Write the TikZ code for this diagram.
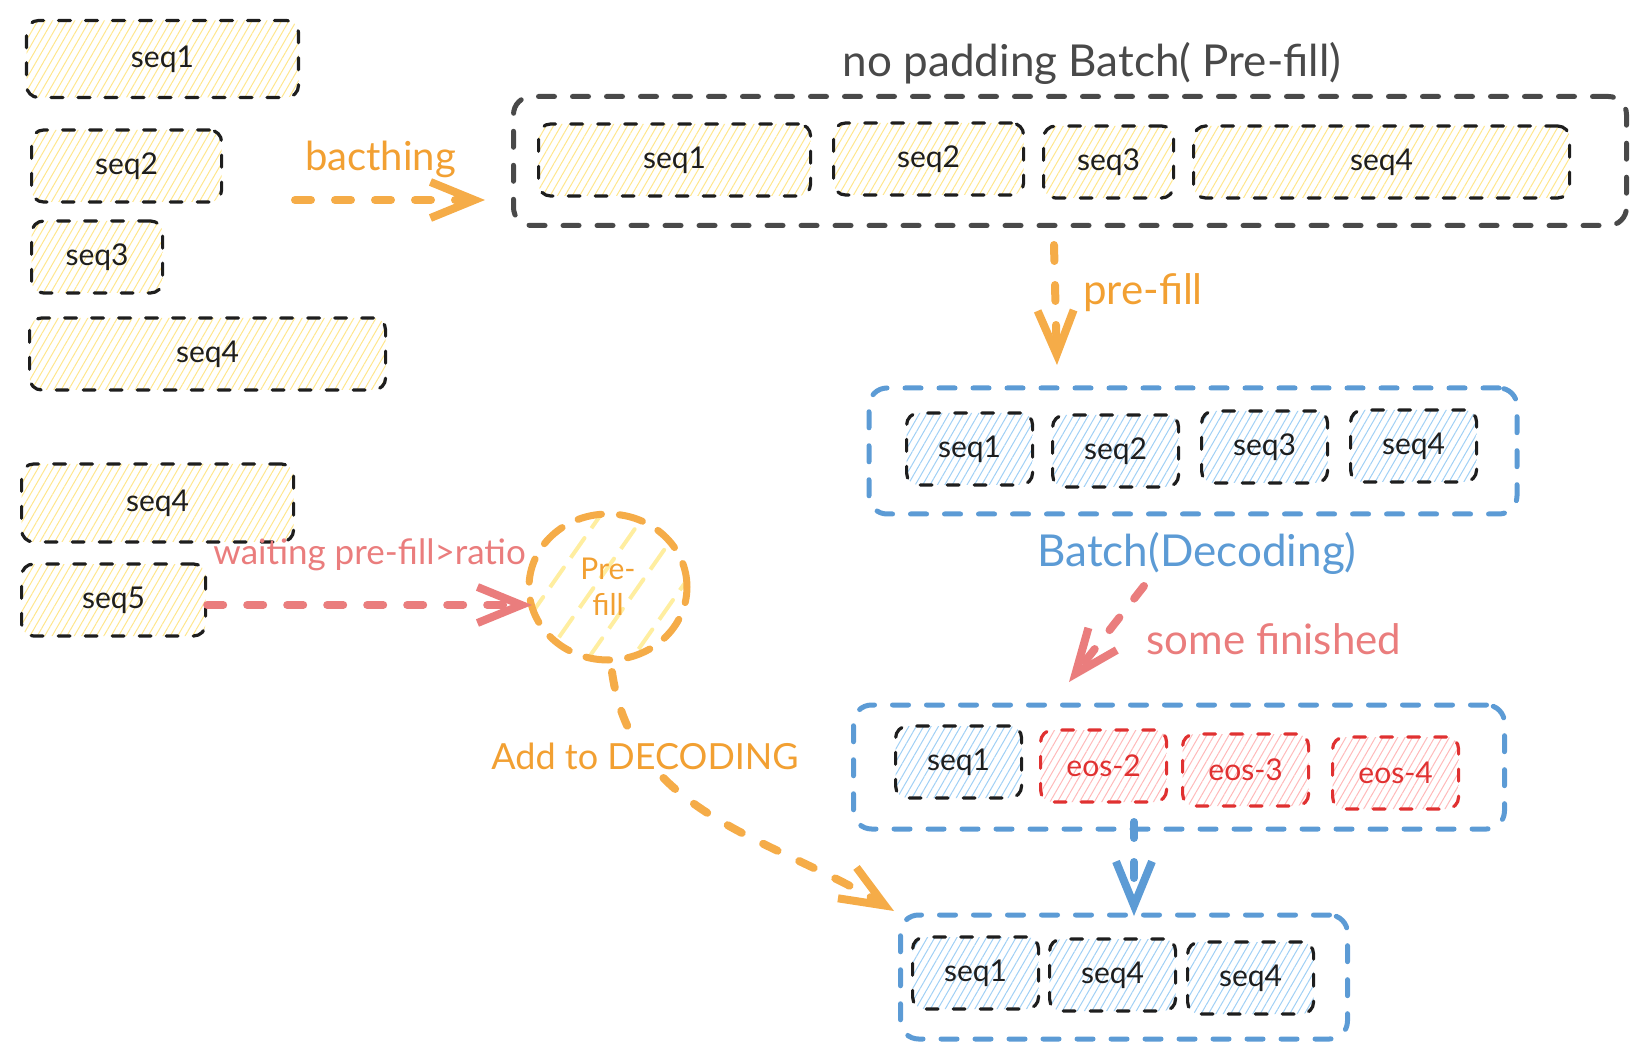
\documentclass[tikz,border=0pt]{standalone}
\usepackage{fontspec}
\setmainfont{Lato}
\usepackage{xcolor}
\definecolor{strokeblack}{RGB}{30,30,30}
\definecolor{batchgray}{RGB}{73,73,73}
\definecolor{hatchyellow}{RGB}{255,230,140}
\definecolor{hatchblue}{RGB}{160,208,245}
\definecolor{hatchred}{RGB}{255,185,185}
\definecolor{hatchcircle}{RGB}{255,238,160}
\definecolor{myorange}{RGB}{245,172,72}
\definecolor{textorange}{RGB}{242,160,50}
\definecolor{myblue}{RGB}{92,155,213}
\definecolor{eosred}{RGB}{224,49,49}
\definecolor{mypink}{RGB}{234,125,125}
\usepackage{tikz}
\usetikzlibrary{arrows.meta}
\usetikzlibrary{patterns.meta}
\usetikzlibrary{shapes.geometric}
\newcommand{\heightseq}{36pt}
\newcommand{\widthdec}{63pt}
\newcommand{\seqfont}{\fontsize{15}{18}\selectfont}
\newcommand{\notefont}{\fontsize{18}{22}\selectfont}
\newcommand{\bignotefont}{\fontsize{21}{25}\selectfont}
\tikzset{
    common/.style={anchor=west, draw=strokeblack, rounded corners=6pt, line width=1.6pt, line cap=round,
        dash pattern=on 6pt off 7.5pt, minimum height=\heightseq, font=\seqfont, text=strokeblack},
    yseq/.style={common, pattern={Lines[angle=60,distance=3.2pt,line width=0.5pt]}, pattern color=hatchyellow},
    bseq/.style={common, minimum width=\widthdec, pattern={Lines[angle=60,distance=3.2pt,line width=0.5pt]}, pattern color=hatchblue},
    eos/.style={bseq, draw=eosred, text=eosred, pattern color=hatchred},
    batch/.style={draw=myblue, rounded corners=9pt, line width=2.5pt, line cap=round, dash pattern=on 8pt off 9pt},
    flow/.style={line width=4pt, line cap=round, dash pattern=on 8pt off 12pt, -{Straight Barb[length=22pt,width=18pt]}},
    note/.style={font=\notefont, inner sep=2pt},
    prefill/.style={ellipse, draw=myorange, line width=3.5pt, line cap=round, dash pattern=on 12pt off 9pt,
        pattern={Lines[angle=55,distance=18pt,line width=2pt]}, pattern color=hatchcircle,
        minimum width=79pt, minimum height=73pt, inner sep=0pt, align=center, font=\seqfont, text=textorange}
}

\begin{document}
\begin{tikzpicture}[x=0.5pt, y=-0.5pt]
  \useasboundingbox (0,0) rectangle (1646,1059);

  % incoming sequences
  \path
    (26,59) node[yseq, minimum width=136pt, minimum height=38.5pt] (w-seq1) {seq1}
    ++(4,107) node[yseq, minimum width=95pt] (w-seq2) {seq2}
    ++(0,91) node[yseq, minimum width=65.5pt] (w-seq3) {seq3}
    ++(-2,97) node[yseq, minimum width=178pt] (w-seq4) {seq4};

  \coordinate (batching-start) at (295,200);
  \coordinate (batching-end) at (485,200);
  \draw[flow, myorange] (batching-start) -- node[note, font=\fontsize{20}{24}\selectfont, text=textorange, above=7pt, pos=0.45] {bacthing} (batching-end);

  % pre-fill batch
  \node[note, font=\fontsize{22}{26}\selectfont, text=batchgray] (prefill-title) at (1092,63) {no padding Batch( Pre-fill)};
  \node[batch, draw=batchgray, minimum width=556.5pt, minimum height=64.5pt] (prefill-batch) at (1070,161) {};
  \path
    (537,160) node[yseq, minimum width=136pt] (p-seq1) {seq1}
    ++(295,-1) node[yseq, minimum width=95pt] (p-seq2) {seq2}
    ++(210,3) node[yseq, minimum width=65pt] (p-seq3) {seq3}
    ++(150,0) node[yseq, minimum width=188pt] (p-seq4) {seq4};

  \coordinate (prefill-start) at (1054,245);
  \coordinate (prefill-end) at (1057,365);
  \draw[flow, myorange] (prefill-start) -- node[note, font=\bignotefont, text=textorange, right=10pt, pos=0.4] {pre-fill} (prefill-end);

  % decoding batch
  \node[batch, minimum width=324pt, minimum height=63pt] (decode-batch) at (1193,451) {};
  \path
    (905,449) node[bseq] (d-seq1) {seq1}
    ++(146,2) node[bseq] (d-seq2) {seq2}
    ++(149,-4) node[bseq] (d-seq3) {seq3}
    ++(149,-1) node[bseq] (d-seq4) {seq4};
  \node[note, text=myblue, font=\fontsize{22}{26}\selectfont] (decode-title) at (1197,553) {Batch(Decoding)};

  \coordinate (finish-start) at (1144,586);
  \coordinate (finish-end) at (1069,682);
  \draw[flow, mypink] (finish-start) -- node[note, text=mypink, font=\bignotefont, right=18pt, pos=0.55] {some finished} (finish-end);

  % batch with finished sequences
  \node[batch, minimum width=325.5pt, minimum height=62pt] (finish-batch) at (1179,767) {};
  \path
    (894,762) node[bseq] (f-seq1) {seq1}
    ++(145,4) node[eos] (f-eos2) {eos-2}
    ++(142,4) node[eos] (f-eos3) {eos-3}
    ++(150,3) node[eos] (f-eos4) {eos-4};

  \coordinate (merge-start) at (1134,822);
  \coordinate (merge-end) at (1134,916);
  \draw[flow, myblue] (merge-start) -- (merge-end);

  % next decoding batch
  \node[batch, minimum width=223.5pt, minimum height=62pt] (next-batch) at (1124,977) {};
  \path
    (911,973) node[bseq] (n-seq1) {seq1}
    ++(137,2) node[bseq] (n-seq4) {seq4}
    ++(138,3) node[bseq] (n-seq4b) {seq4};

  % waiting queue and pre-fill
  \path
    (20,503) node[yseq, minimum width=136pt, minimum height=39pt] (q-seq4) {seq4}
    ++(0,97) node[yseq, minimum width=92pt] (q-seq5) {seq5};

  \node[prefill] (prefill-op) at (608,587) {Pre-\\fill};

  \coordinate (wait-end) at (532,605);
  \draw[flow, mypink] (q-seq5.east |- wait-end) -- node[note, text=mypink, font=\fontsize{17.5}{21}\selectfont, above=13pt] {waiting pre-fill>ratio} (wait-end);

  \coordinate (add-start) at (612,672);
  \coordinate (add-end) at (894,911);
  \draw[flow, myorange] (add-start) to[out=-82, in=149] node[note, text=textorange, fill=white, inner sep=1pt, pos=0.24] {Add to DECODING} (add-end);
\end{tikzpicture}
\end{document}
